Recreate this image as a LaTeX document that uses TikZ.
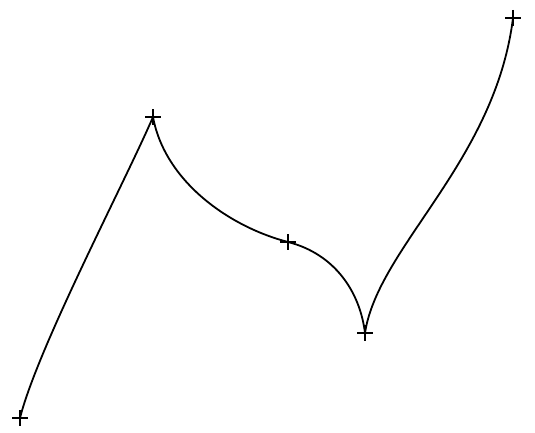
\documentclass[tikz,border=0pt]{standalone}
\usepackage{tikz}

\begin{document}
\begin{tikzpicture}[
    x=1pt, y=1pt,
    plusmark/.style={rectangle, inner sep=0pt, minimum size=16pt,
                     path picture={\draw[line width=1.6pt]
                        (path picture bounding box.north) -- (path picture bounding box.south)
                        (path picture bounding box.west) -- (path picture bounding box.east);}},
    curveline/.style={line width=1.8pt, line cap=round, line join=round}
]
\useasboundingbox (0,0) rectangle (535,432);

\node[plusmark] (p1) at (20,14) {};
\node[plusmark] (p2) at (153,315) {};
\node[plusmark] (p3) at (288,190) {};
\node[plusmark] (p4) at (365,99) {};
\node[plusmark] (p5) at (513,414) {};

\draw[curveline] (p1.center) .. controls (38,85) and (125,250) .. (p2.center)
    .. controls (165,250) and (230,205) .. (p3.center)
    .. controls (335,178) and (360,140) .. (p4.center)
    .. controls (378,185) and (495,270) .. (p5.center);
\end{tikzpicture}
\end{document}
